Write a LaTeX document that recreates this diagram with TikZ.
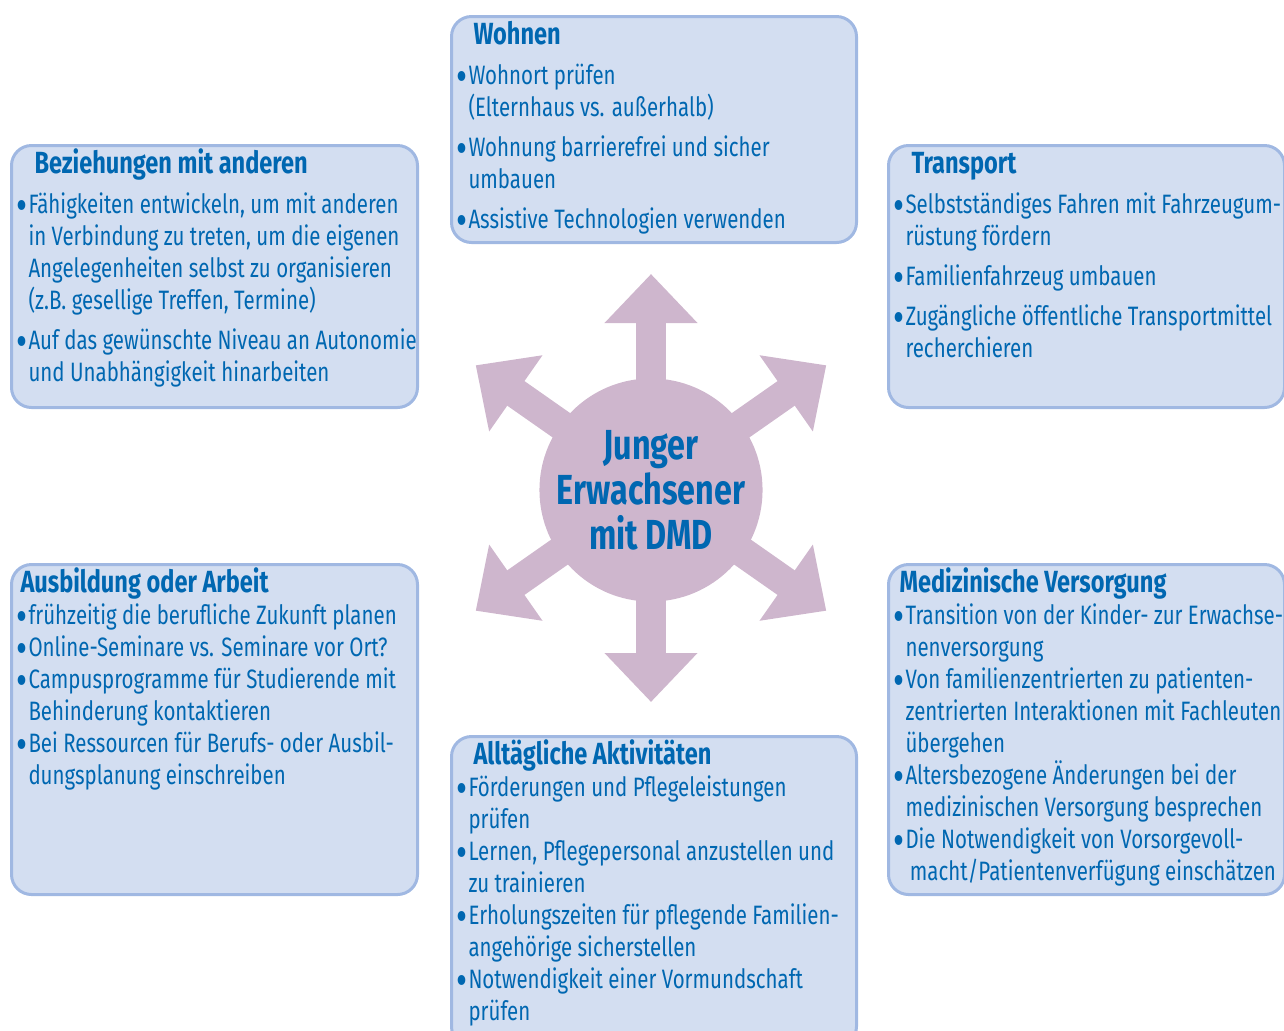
\documentclass[tikz,border=0pt]{standalone}
\usepackage{fontspec}
\setmainfont{Fira Sans}[FakeStretch=0.77]
\usetikzlibrary{arrows.meta,calc}
\definecolor{boxfill}{RGB}{211,222,241}
\definecolor{boxline}{RGB}{160,184,226}
\definecolor{txtblue}{RGB}{0,103,177}
\definecolor{mauve}{RGB}{206,182,205}
% one bullet item, the lines are broken by hand
\newcommand{\itm}{\par\noindent\llap{\smash{\raisebox{-3.4pt}{\fontsize{22}{16}\selectfont\textbullet}}\hspace{0.6pt}}}
\newcommand{\boxttl}[2]{\noindent\hspace*{#1}\rule{0pt}{14pt}{\fontsize{15.3}{16}\bfseries #2}}
\newcommand{\boxbody}[4]{\parbox[t][#2][t]{#1}{\fontsize{13.3}{16}\selectfont\raggedright\setlength{\parskip}{#3}#4}}
\tikzset{
  infobox/.style={draw=boxline, fill=boxfill, line width=1.5pt, rounded corners=10pt,
    inner xsep=8.5pt, inner ysep=0pt, anchor=north west, text=txtblue},
  spoke/.style={draw=mauve, line width=15pt, -{Triangle[width=45pt,length=24.5pt]}}
}
\begin{document}
\begin{tikzpicture}[x=0.5pt, y=-0.5pt]
  \useasboundingbox (0,0) rectangle (1284,1030);
  \clip (0,0) rectangle (1284,1030);

  % centre with six arrows
  \node[circle, fill=mauve, minimum size=108pt, inner sep=0pt] (dmd) at (651,488) {};
  \foreach \a/\n in {90/up, 35/ur, -35/dr, -90/dn, -145/dl, 145/ul} {
    \coordinate (tip\n) at ($(dmd.center)+({214*cos(\a)},{-214*sin(\a)})$);
    \draw[spoke] (dmd.center) -- (tip\n);
  }
  \node[circle, fill=mauve, minimum size=108pt, inner sep=0pt, align=center,
    text=txtblue, font=\fontsize{21}{22.5}\bfseries] (dmdtxt) at (651,490)
    {Junger\\Erwachsener\\mit DMD};

  % the six fields
  \node[infobox] (wohnen) at (450,15) {\boxbody{185.5pt}{113pt}{4pt}{%
    \boxttl{2.5pt}{Wohnen}
    \itm Wohnort prüfen\\(Elternhaus vs. außerhalb)
    \itm Wohnung barrierefrei und sicher\\umbauen
    \itm Assistive Technologien verwenden}};

  \node[infobox] (bezieh) at (10,144) {\boxbody{186pt}{131pt}{4pt}{%
    \boxttl{3pt}{Beziehungen mit anderen}
    \itm \mbox{Fähigkeiten entwickeln, um mit anderen}\\
      \mbox{in Verbindung zu treten, um die eigenen}\\
      \mbox{Angelegenheiten selbst zu organisieren}\\
      (z.B. gesellige Treffen, Termine)
    \itm \mbox{Auf das gewünschte Niveau an Autonomie}\\
      und Unabhängigkeit hinarbeiten}};

  \node[infobox] (transport) at (887,144) {\boxbody{181pt}{131pt}{4pt}{%
    \boxttl{3pt}{Transport}
    \itm \mbox{Selbstständiges Fahren mit Fahrzeugum-}\\rüstung fördern
    \itm Familienfahrzeug umbauen
    \itm \mbox{Zugängliche öffentliche Transportmittel}\\recherchieren}};

  \node[infobox] (ausbildung) at (10,563) {\boxbody{186pt}{165pt}{0pt}{%
    \boxttl{-4pt}{Ausbildung oder Arbeit}
    \itm \mbox{frühzeitig die berufliche Zukunft planen}
    \itm \mbox{Online-Seminare vs. Seminare vor Ort?}
    \itm \mbox{Campusprogramme für Studierende mit}\\Behinderung kontaktieren
    \itm \mbox{Bei Ressourcen für Berufs- oder Ausbil-}\\dungsplanung einschreiben}};

  \node[infobox] (medizin) at (887,563) {\boxbody{181pt}{165pt}{0pt}{%
    \boxttl{-3pt}{Medizinische Versorgung}
    \itm \mbox{Transition von der Kinder- zur Erwachse-}\\nenversorgung
    \itm \mbox{Von familienzentrierten zu patienten-}\\
      \mbox{zentrierten Interaktionen mit Fachleuten}\\übergehen
    \itm \mbox{Altersbezogene Änderungen bei der}\\
      \mbox{medizinischen Versorgung besprechen}
    \itm \mbox{Die Notwendigkeit von Vorsorgevoll-}\\
      \mbox{\,macht/Patientenverfügung einschätzen}}};

  \node[infobox] (alltag) at (450,735) {\boxbody{185.5pt}{155pt}{0pt}{%
    \boxttl{2.5pt}{Alltägliche Aktivitäten}
    \itm \mbox{Förderungen und Pflegeleistungen}\\prüfen
    \itm \mbox{Lernen, Pflegepersonal anzustellen und}\\zu trainieren
    \itm \mbox{Erholungszeiten für pflegende Familien-}\\angehörige sicherstellen
    \itm \mbox{Notwendigkeit einer Vormundschaft}\\prüfen}};
\end{tikzpicture}
\end{document}
